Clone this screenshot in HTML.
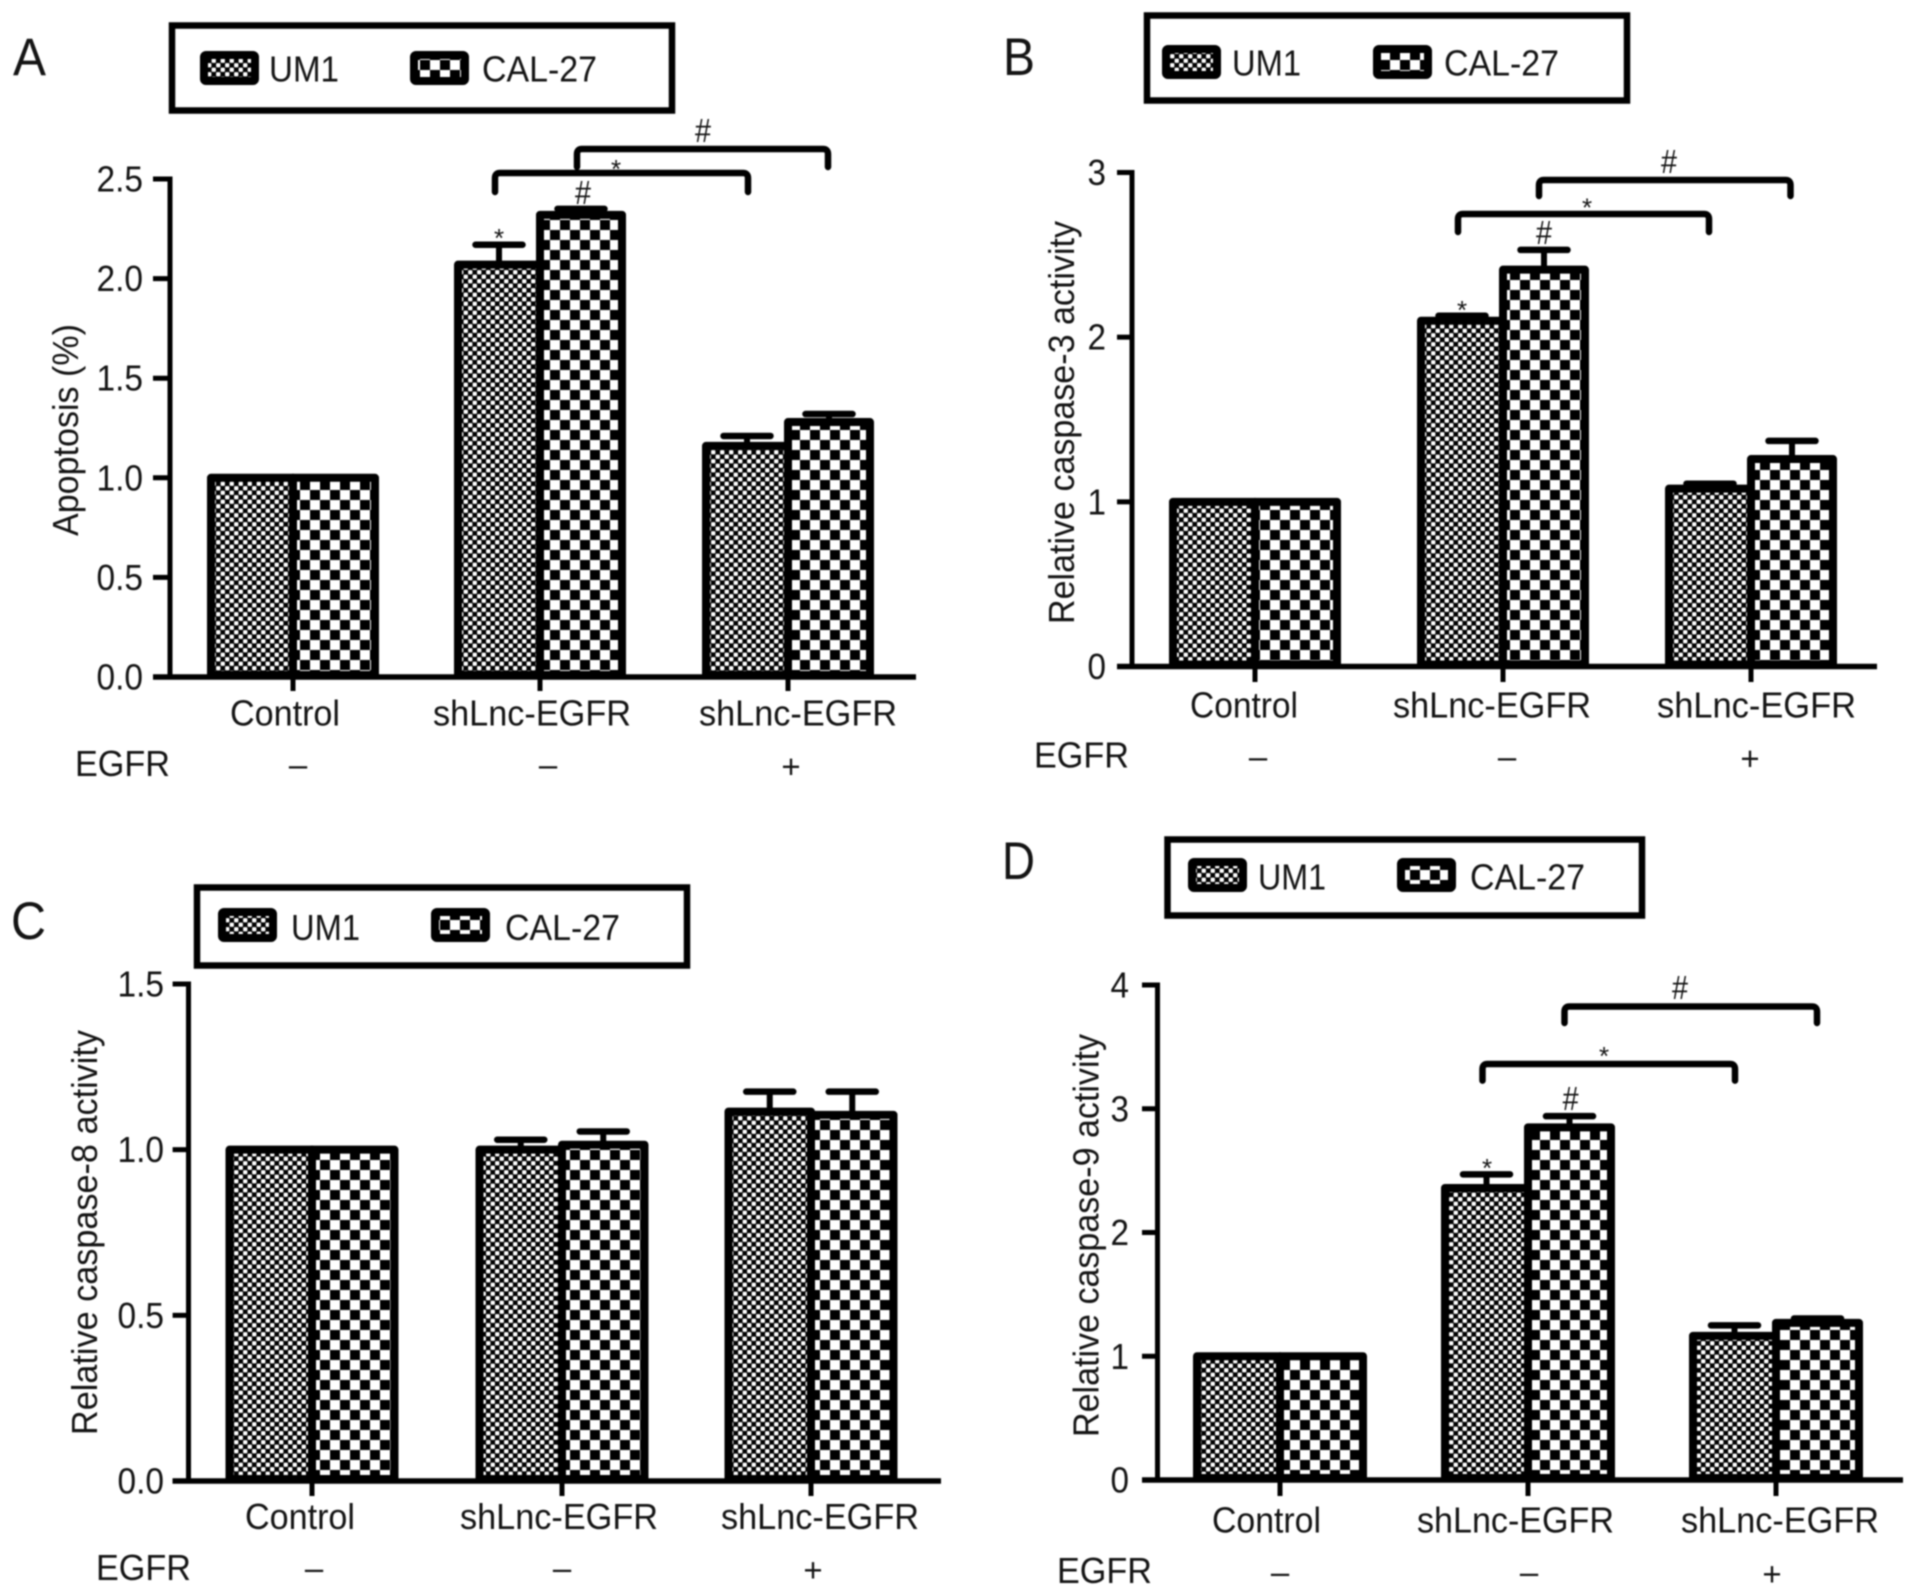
<!DOCTYPE html>
<html lang="en">
<head>
<meta charset="utf-8">
<title>Apoptosis and caspase activity charts</title>
<style>
  html, body { margin: 0; padding: 0; background: #fff; width: 1913px; height: 1596px; overflow: hidden; }
  svg { display: block; filter: blur(0.75px); }
  text { font-family: "Liberation Sans", sans-serif; fill: #141414; }
</style>
</head>
<body>
<svg id="figure" xmlns="http://www.w3.org/2000/svg" width="1913" height="1596" viewBox="0 0 1913 1596">
  <defs>
    <pattern id="um1-pattern" patternUnits="userSpaceOnUse" width="9" height="9">
      <rect width="9" height="9" fill="#000"></rect>
      <rect x="0.1" y="0.1" width="4.3" height="4.3" rx="0.9" fill="#fff"></rect>
      <rect x="4.6" y="4.6" width="4.3" height="4.3" rx="0.9" fill="#fff"></rect>
    </pattern>
    <pattern id="cal27-pattern" patternUnits="userSpaceOnUse" width="20" height="20">
      <rect width="20" height="20" fill="#fff"></rect>
      <rect x="0" y="0" width="10" height="10" fill="#000"></rect>
      <rect x="10" y="10" width="10" height="10" fill="#000"></rect>
    </pattern>
  </defs>
</svg>
<script>
// ---------- chart data ----------
const categories = ['Control', 'shLnc-EGFR', 'shLnc-EGFR'];
const egfrStatus = ['–', '–', '+'];

const panelATicks = ['0.0', '0.5', '1.0', '1.5', '2.0', '2.5'];
const panelAUm1 = [1.0, 2.07, 1.16];
const panelACal27 = [1.0, 2.32, 1.28];
const panelAUm1Err = [0, 0.10, 0.05];
const panelACal27Err = [0, 0.03, 0.04];

const panelBTicks = ['0', '1', '2', '3'];
const panelBUm1 = [1.0, 2.10, 1.08];
const panelBCal27 = [1.0, 2.41, 1.26];
const panelBUm1Err = [0, 0.03, 0.03];
const panelBCal27Err = [0, 0.12, 0.11];

const panelCTicks = ['0.0', '0.5', '1.0', '1.5'];
const panelCUm1 = [1.0, 1.0, 1.115];
const panelCCal27 = [1.0, 1.015, 1.105];
const panelCUm1Err = [0, 0.03, 0.06];
const panelCCal27Err = [0, 0.04, 0.07];

const panelDTicks = ['0', '1', '2', '3', '4'];
const panelDUm1 = [1.0, 2.36, 1.165];
const panelDCal27 = [1.0, 2.85, 1.27];
const panelDUm1Err = [0, 0.11, 0.085];
const panelDCal27Err = [0, 0.09, 0.035];

// ---------- panel layout (geometry only) ----------
const panels = [
  { id: 'a', letter: 'A', letterX: 13, letterY: 75, letterW: 33,
    ticks: panelATicks, um1: panelAUm1, cal27: panelACal27, um1Err: panelAUm1Err, cal27Err: panelACal27Err,
    title: 'Apoptosis (%)', titleX: 78, titleBottom: 536, titleLen: 212,
    axisX: 170, axisTop: 179, axisZero: 677, axisEnd: 916, tickLeft: 153, tickLabelRight: 143, tickBottom: 691,
    groups: [293, 540, 788], halfW: 82,
    catX: [[230, 110], [433, 198], [699, 198]], catY: 725.5,
    egfrX: 75, egfrW: 95, egfrY: 776, signX: [298, 548, 791], signY: 767,
    legend: { x: 171, y: 24, w: 502, h: 85, s1: 200, s2: 410, sy: 51, t1: 269, t1w: 70, t2: 482, t2w: 115, ty: 81.5 },
    brackets: [
      { x1: 495, x2: 748, y: 173, leg: 192, label: '*', lx: 616, ly: 163 },
      { x1: 577, x2: 828, y: 149, leg: 167, label: '#', lx: 703, ly: 130 }
    ],
    marks: [ { label: '*', lx: 499, ly: 232 }, { label: '#', lx: 583, ly: 192 } ] },
  { id: 'b', letter: 'B', letterX: 1003, letterY: 75, letterW: 32,
    ticks: panelBTicks, um1: panelBUm1, cal27: panelBCal27, um1Err: panelBUm1Err, cal27Err: panelBCal27Err,
    title: 'Relative caspase-3 activity', titleX: 1074, titleBottom: 624, titleLen: 403,
    axisX: 1132, axisTop: 172.5, axisZero: 666.5, axisEnd: 1877, tickLeft: 1117, tickLabelRight: 1106, tickBottom: 682,
    groups: [1255, 1503, 1751], halfW: 82,
    catX: [[1190, 108], [1393, 198], [1657, 199]], catY: 717.5,
    egfrX: 1034, egfrW: 95, egfrY: 767.5, signX: [1258, 1507, 1750], signY: 759,
    legend: { x: 1146, y: 14, w: 482, h: 85, s1: 1162, s2: 1373, sy: 45, t1: 1232, t1w: 69, t2: 1444, t2w: 115, ty: 75.5 },
    brackets: [
      { x1: 1458, x2: 1709, y: 214, leg: 232, label: '*', lx: 1587, ly: 201.5 },
      { x1: 1539, x2: 1790.5, y: 180, leg: 196, label: '#', lx: 1669, ly: 161 }
    ],
    marks: [ { label: '*', lx: 1462, ly: 304 }, { label: '#', lx: 1544, ly: 232 } ] },
  { id: 'c', letter: 'C', letterX: 11, letterY: 939, letterW: 35,
    ticks: panelCTicks, um1: panelCUm1, cal27: panelCCal27, um1Err: panelCUm1Err, cal27Err: panelCCal27Err,
    title: 'Relative caspase-8 activity', titleX: 97, titleBottom: 1435, titleLen: 405,
    axisX: 188.5, axisTop: 984, axisZero: 1481, axisEnd: 941, tickLeft: 172.6, tickLabelRight: 164, tickBottom: 1496,
    groups: [312, 562, 811], halfW: 82.5,
    catX: [[245, 110], [460, 198], [721, 198]], catY: 1529,
    egfrX: 96, egfrW: 95, egfrY: 1580, signX: [314, 562, 813], signY: 1570.5,
    legend: { x: 196, y: 886, w: 492, h: 78, s1: 218, s2: 431, sy: 908, t1: 291, t1w: 69, t2: 505, t2w: 115, ty: 940 },
    brackets: [],
    marks: [] },
  { id: 'd', letter: 'D', letterX: 1002, letterY: 879, letterW: 33,
    ticks: panelDTicks, um1: panelDUm1, cal27: panelDCal27, um1Err: panelDUm1Err, cal27Err: panelDCal27Err,
    title: 'Relative caspase-9 activity', titleX: 1098.5, titleBottom: 1437, titleLen: 403,
    axisX: 1157.5, axisTop: 985, axisZero: 1480, axisEnd: 1903, tickLeft: 1142, tickLabelRight: 1129, tickBottom: 1496,
    groups: [1280, 1528, 1776], halfW: 83,
    catX: [[1212, 109], [1417, 197], [1681, 198]], catY: 1532.6,
    egfrX: 1057, egfrW: 95, egfrY: 1583, signX: [1280, 1529, 1772], signY: 1574.5,
    legend: { x: 1166.5, y: 838, w: 476.5, h: 76, s1: 1188, s2: 1397, sy: 858, t1: 1258, t1w: 68, t2: 1470, t2w: 115, ty: 889.5 },
    brackets: [
      { x1: 1482.5, x2: 1735, y: 1064, leg: 1080.6, label: '*', lx: 1604, ly: 1050 },
      { x1: 1564.5, x2: 1817, y: 1006.5, leg: 1023, label: '#', lx: 1680, ly: 987 }
    ],
    marks: [ { label: '*', lx: 1487, ly: 1162 }, { label: '#', lx: 1570.6, ly: 1098 } ] }
];

// ---------- drawing ----------
const NS = 'http://www.w3.org/2000/svg';
const root = document.getElementById('figure');

function make(tag, parent, attrs, content) {
  const node = document.createElementNS(NS, tag);
  for (const key in attrs) node.setAttribute(key, attrs[key]);
  if (content !== undefined) node.textContent = content;
  parent.appendChild(node);
  return node;
}

function yScale(p) {
  const tickValues = p.ticks.map(Number);
  const maxValue = Math.max.apply(null, tickValues);
  return function (v) { return p.axisZero - (v / maxValue) * (p.axisZero - p.axisTop); };
}

function drawAnnotation(parent, a) {
  if (a.label === '#') {
    const el = make('text', parent, { x: a.lx, y: a.ly + 12, 'font-size': 33, 'text-anchor': 'middle', textLength: 16, lengthAdjust: 'spacingAndGlyphs' }, '#');
    
    
  } else {
    const el = make('text', parent, { x: a.lx, y: a.ly + 15, 'font-size': 26, 'text-anchor': 'middle' }, '*');
    
    
  }
}

function drawPanel(p) {
  const y = yScale(p);
  const group = make('g', root, {});
  
  

  const letter = make('text', group, { x: p.letterX, y: p.letterY, 'font-size': 53, textLength: p.letterW, lengthAdjust: 'spacingAndGlyphs' }, p.letter);
  
  

  // legend
  const lg = p.legend;
  const legendGroup = make('g', group, {});
  
  
  const box = make('rect', legendGroup, { x: lg.x + 1, y: lg.y + 1.5, width: lg.w - 2, height: lg.h, fill: '#fff', stroke: '#000', 'stroke-width': 6.5 });
  
  
  const swatch1 = make('rect', legendGroup, { x: lg.s1 + 4, y: lg.sy + 4, width: 51, height: 26, rx: 2, fill: 'url(#um1-pattern)', stroke: '#000', 'stroke-width': 8 });
  
  
  const label1 = make('text', legendGroup, { x: lg.t1, y: lg.ty, 'font-size': 36, textLength: lg.t1w, lengthAdjust: 'spacingAndGlyphs' }, 'UM1');
  
  
  const swatch2 = make('rect', legendGroup, { x: lg.s2 + 4, y: lg.sy + 4, width: 51, height: 26, rx: 2, fill: 'url(#cal27-pattern)', stroke: '#000', 'stroke-width': 8 });
  
  
  const label2 = make('text', legendGroup, { x: lg.t2, y: lg.ty, 'font-size': 36, textLength: lg.t2w, lengthAdjust: 'spacingAndGlyphs' }, 'CAL-27');
  
  

  // bars
  categories.forEach(function (cat, i) {
    const cx = p.groups[i];
    const topU = y(p.um1[i]);
    const topC = y(p.cal27[i]);
    const capHalf = 23.5;
    const xU = cx - p.halfW / 2;
    const xC = cx + p.halfW / 2;

    if (p.um1Err[i] > 0) {
      const errTop = y(p.um1[i] + p.um1Err[i]);
      const stem = make('line', group, { x1: xU, x2: xU, y1: topU, y2: errTop, stroke: '#000', 'stroke-width': 6 });
      
      
      const cap = make('line', group, { x1: xU - capHalf, x2: xU + capHalf, y1: errTop, y2: errTop, stroke: '#000', 'stroke-width': 6.5, 'stroke-linecap': 'round' });
      
      
    }
    if (p.cal27Err[i] > 0) {
      const errTop = y(p.cal27[i] + p.cal27Err[i]);
      const stem = make('line', group, { x1: xC, x2: xC, y1: topC, y2: errTop, stroke: '#000', 'stroke-width': 6 });
      
      
      const cap = make('line', group, { x1: xC - capHalf, x2: xC + capHalf, y1: errTop, y2: errTop, stroke: '#000', 'stroke-width': 6.5, 'stroke-linecap': 'round' });
      
      
    }

    const barU = make('rect', group, { x: cx - p.halfW, y: topU, width: p.halfW, height: p.axisZero - 2 - topU, fill: 'url(#um1-pattern)', stroke: '#000', 'stroke-width': 8, 'stroke-linejoin': 'round' });
    
    
    const barC = make('rect', group, { x: cx, y: topC, width: p.halfW, height: p.axisZero - 2 - topC, fill: 'url(#cal27-pattern)', stroke: '#000', 'stroke-width': 8, 'stroke-linejoin': 'round' });
    
    

    const tick = make('line', group, { x1: cx, x2: cx, y1: p.axisZero, y2: p.tickBottom, stroke: '#000', 'stroke-width': 5 });
    
    

    const catLabel = make('text', group, { x: p.catX[i][0], y: p.catY, 'font-size': 36, textLength: p.catX[i][1], lengthAdjust: 'spacingAndGlyphs' }, cat);
    
    

    const sign = make('text', group, { x: p.signX[i], y: p.signY + (egfrStatus[i] === '+' ? 11 : 9), 'font-size': 33, 'text-anchor': 'middle' }, egfrStatus[i]);
    
    
  });

  // axes
  const yAxis = make('line', group, { x1: p.axisX, x2: p.axisX, y1: p.axisTop - 2.5, y2: p.axisZero, stroke: '#000', 'stroke-width': 5 });
  
  
  const xAxis = make('line', group, { x1: p.tickLeft, x2: p.axisEnd, y1: p.axisZero, y2: p.axisZero, stroke: '#000', 'stroke-width': 5.5 });
  
  

  p.ticks.forEach(function (label) {
    const ty = y(Number(label));
    const tick = make('line', group, { x1: p.tickLeft, x2: p.axisX, y1: ty, y2: ty, stroke: '#000', 'stroke-width': 5 });
    
    
    const text = make('text', group, { x: p.tickLabelRight, y: ty + 12.5, 'font-size': 36, 'text-anchor': 'end', textLength: label.length === 1 ? 18.5 : 46.5, lengthAdjust: 'spacingAndGlyphs' }, label);
    
    
  });

  const title = make('text', group, { x: 0, y: 0, 'font-size': 36, textLength: p.titleLen, lengthAdjust: 'spacingAndGlyphs', transform: 'translate(' + p.titleX + ' ' + p.titleBottom + ') rotate(-90)' }, p.title);
  
  

  const egfr = make('text', group, { x: p.egfrX, y: p.egfrY, 'font-size': 36, textLength: p.egfrW, lengthAdjust: 'spacingAndGlyphs' }, 'EGFR');
  
  

  // significance brackets
  p.brackets.forEach(function (b) {
    const d = 'M' + b.x1 + ' ' + b.leg + 'V' + (b.y + 5) + 'Q' + b.x1 + ' ' + b.y + ' ' + (b.x1 + 5) + ' ' + b.y +
              'H' + (b.x2 - 5) + 'Q' + b.x2 + ' ' + b.y + ' ' + b.x2 + ' ' + (b.y + 5) + 'V' + b.leg;
    const path = make('path', group, { d: d, fill: 'none', stroke: '#000', 'stroke-width': 6.5, 'stroke-linecap': 'round' });
    
    
    drawAnnotation(group, b);
  });
  p.marks.forEach(function (m) { drawAnnotation(group, m); });
}

panels.forEach(drawPanel);
</script>
</body>
</html>
